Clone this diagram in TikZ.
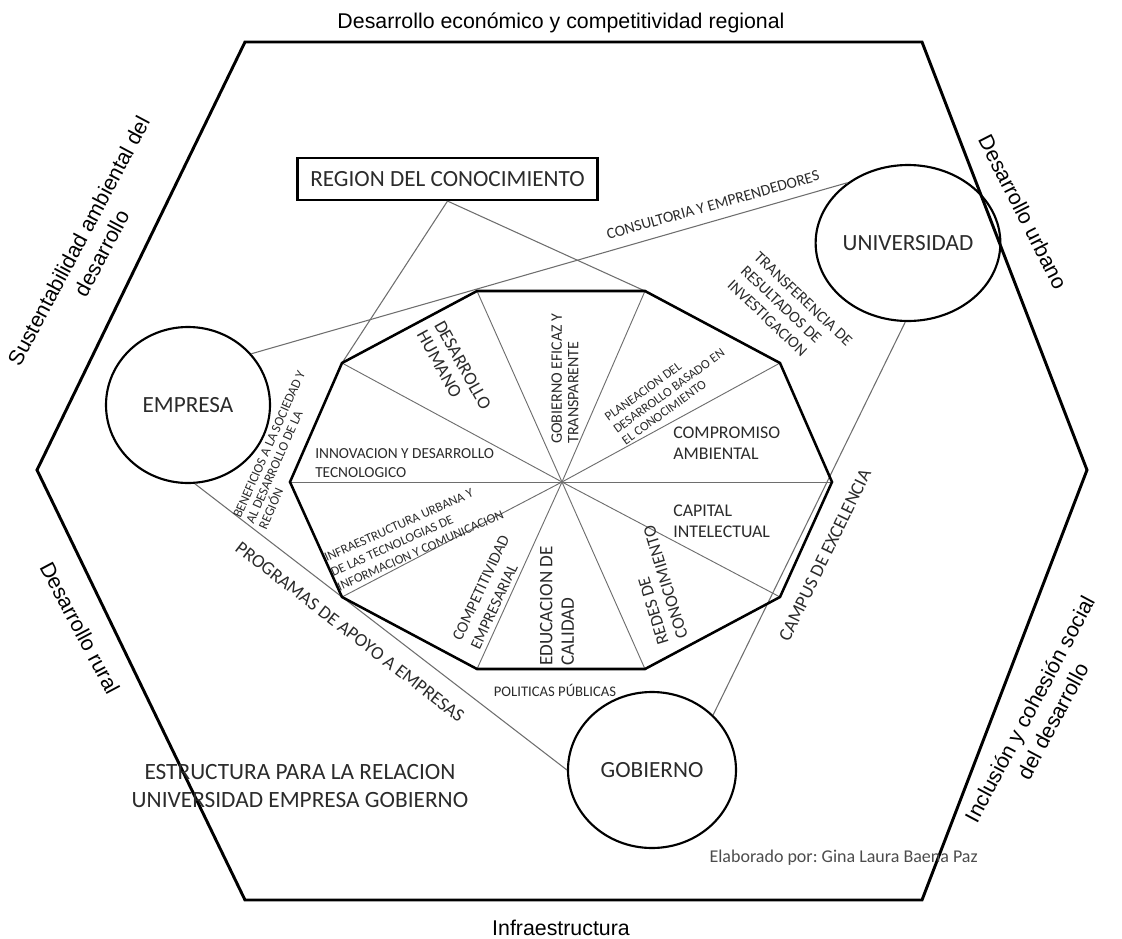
\documentclass[tikz,border=0pt]{standalone}
\usepackage{fontspec}
\setmainfont{Carlito}
\newfontfamily\arialf{Liberation Sans}
\usetikzlibrary{shapes.geometric}
\definecolor{txt}{HTML}{2B2B2B}
\definecolor{ln}{HTML}{6E6E6E}
\frenchspacing
\begin{document}
\begin{tikzpicture}[x=0.75pt,y=-0.75pt,
  hex/.style={line width=2.2pt, line join=miter},
  deca/.style={line width=1.9pt, line join=miter},
  spoke/.style={draw=ln, line width=0.7pt},
  conn/.style={draw=ln, line width=0.8pt},
  actor/.style={ellipse, draw, line width=1.6pt, inner sep=0pt, text=txt, font=\fontsize{17.4pt}{20pt}\selectfont},
  lab/.style={inner sep=0pt, text=txt},
  side/.style={inner sep=0pt, text=black, font=\arialf\fontsize{16pt}{19.5pt}\selectfont, align=center}]
\useasboundingbox (0,0) rectangle (1122,939);

% hexagon
\coordinate (h1) at (245,42);
\coordinate (h2) at (922,42);
\coordinate (h3) at (1087,470);
\coordinate (h4) at (922,900);
\coordinate (h5) at (245,900);
\coordinate (h6) at (37,470);
\draw[hex] (h1) -- (h2) -- (h3) -- (h4) -- (h5) -- (h6) -- cycle;

% decagon
\coordinate (c) at (562,482);
\coordinate (d0) at (832,482);
\coordinate (d1) at (780,363);
\coordinate (d2) at (645,291);
\coordinate (d3) at (477,291);
\coordinate (d4) at (342,363);
\coordinate (d5) at (290,482);
\coordinate (d6) at (342,597);
\coordinate (d7) at (477,669);
\coordinate (d8) at (645,669);
\coordinate (d9) at (780,597);

% actors and box
\node[draw, line width=1.6pt, minimum width=225pt, minimum height=31.5pt, inner sep=0pt, text=txt,
      font=\fontsize{17.4pt}{20pt}\selectfont] (reg) at (447.5,179) {REGION DEL CONOCIMIENTO};
\node[actor, minimum width=123pt, minimum height=117pt] (emp) at (188,405) {EMPRESA};
\node[actor, minimum width=127.5pt, minimum height=117pt] (uni) at (908,243) {UNIVERSIDAD};
\node[actor, minimum width=126pt, minimum height=117pt] (gob) at (652,770) {GOBIERNO};

% connectors
\draw[conn] (reg.south) -- (d4);
\draw[conn] (reg.south) -- (d2);
\draw[conn] (emp.39) -- (uni.135);
\draw[conn] (emp.-85) -- (gob.west);
\draw[conn] (uni.268) -- (gob.42);

% spokes and decagon
\foreach \i in {0,...,9} \draw[spoke] (c) -- (d\i);
\draw[deca] (d0) -- (d1) -- (d2) -- (d3) -- (d4) -- (d5) -- (d6) -- (d7) -- (d8) -- (d9) -- cycle;

% hexagon side labels
\node[side, anchor=base] (ttop) at (561,28) {Desarrollo económico y competitividad regional};
\node[side, anchor=base] (tbot) at (561,935) {Infraestructura};
\node[side, rotate=62] (tsus) at (90,247) {Sustentabilidad ambiental del\\desarrollo};
\node[side, rotate=-63] (turb) at (1023,212) {Desarrollo urbano};
\node[side, rotate=-62] (trur) at (80,628) {Desarrollo rural};
\node[side, rotate=62] (tinc) at (1041,715) {Inclusión y cohesión social\\del desarrollo};

% sector labels
\node[lab, rotate=-61, align=left, font=\fontsize{13.8pt}{15pt}\selectfont] (sdh) at (454,370) {DESARROLLO\\HUMANO};
\node[lab, rotate=90, anchor=west, align=left, font=\fontsize{12pt}{12.5pt}\selectfont] (sgef) at (565,444) {GOBIERNO EFICAZ Y\\TRANSPARENTE};
\node[lab, rotate=36, align=left, font=\fontsize{9.7pt}{11pt}\selectfont] (spla) at (669,391) {PLANEACION DEL\\DESARROLLO BASADO EN\\EL CONOCIMIENTO};
\node[lab, anchor=west, align=left, font=\fontsize{13.4pt}{16pt}\selectfont] (scom) at (673,443) {COMPROMISO\\AMBIENTAL};
\node[lab, anchor=west, align=left, font=\fontsize{13.4pt}{16pt}\selectfont] (scap) at (673,521) {CAPITAL\\INTELECTUAL};
\node[lab, rotate=107, align=left, font=\fontsize{13.2pt}{15pt}\selectfont] (sred) at (656,585) {REDES DE\\CONOCIMIENTO};
\node[lab, rotate=90, anchor=west, align=left, font=\fontsize{14.3pt}{16pt}\selectfont] (sedu) at (557,666) {EDUCACION DE\\CALIDAD};
\node[lab, rotate=65, align=left, font=\fontsize{12pt}{15pt}\selectfont] (scpt) at (490,592) {COMPETITIVIDAD\\EMPRESARIAL};
\node[lab, rotate=24, align=left, font=\fontsize{9.8pt}{12pt}\selectfont] (sinf) at (414,536) {INFRAESTRUCTURA URBANA Y\\DE LAS TECNOLOGIAS DE\\INFORMACION Y COMUNICACION};
\node[lab, anchor=west, align=left, font=\fontsize{11.5pt}{14.5pt}\selectfont] (sinn) at (315,463) {INNOVACION Y DESARROLLO\\TECNOLOGICO};

% connector labels
\node[lab, rotate=15.7, font=\fontsize{11.7pt}{14pt}\selectfont] (lcons) at (713,205) {CONSULTORIA Y EMPRENDEDORES};
\node[lab, rotate=-43.5, align=left, font=\fontsize{12pt}{14.5pt}\selectfont] (ltra) at (790,313) {TRANSFERENCIA DE\\RESULTADOS DE\\INVESTIGACION};
\node[lab, rotate=66, align=left, font=\fontsize{10pt}{10.5pt}\selectfont] (lben) at (282,450) {BENEFICIOS A LA SOCIEDAD Y\\AL DESARROLLO DE LA\\REGIÓN};
\node[lab, rotate=-37.6, font=\fontsize{14pt}{16pt}\selectfont] (lprog) at (350,632) {PROGRAMAS DE APOYO A EMPRESAS};
\node[lab, rotate=64, font=\fontsize{14pt}{16pt}\selectfont] (lcamp) at (825,555) {CAMPUS DE EXCELENCIA};
\node[lab, font=\fontsize{11pt}{13pt}\selectfont] (lpol) at (555,690) {POLITICAS PÚBLICAS};

% other texts
\node[lab, align=center, font=\fontsize{17.5pt}{21pt}\selectfont] (estr) at (300,786) {ESTRUCTURA PARA LA RELACION\\UNIVERSIDAD EMPRESA GOBIERNO};
\node[lab, anchor=base east, text=black!70, font=\fontsize{13.5pt}{16pt}\selectfont] (elab) at (978,862) {Elaborado por: Gina Laura Baena Paz};
\end{tikzpicture}
\end{document}
